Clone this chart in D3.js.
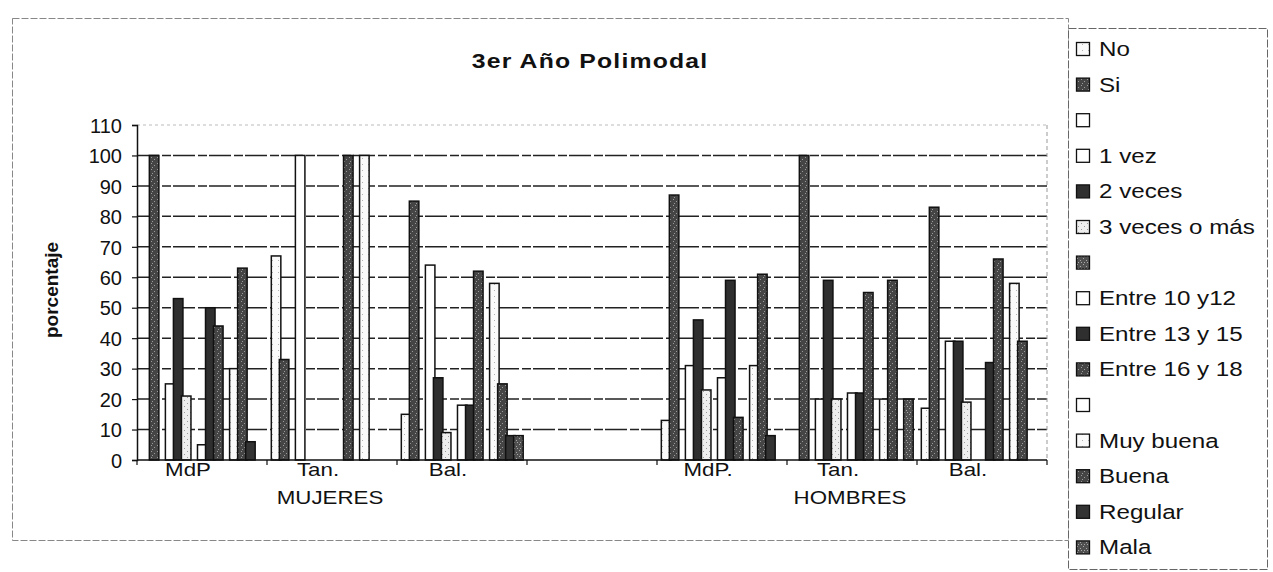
<!DOCTYPE html>
<html>
<head>
<meta charset="utf-8">
<script src="https://cdn.jsdelivr.net/npm/d3@7"></script>
<style>
  html, body { margin: 0; padding: 0; background: #fff; }
  svg { display: block; font-family: "Liberation Sans", Arial, sans-serif; }
</style>
</head>
<body>
<svg id="chart" width="1273" height="572"></svg>
<script>
// ---------------- data ----------------
const categories   = ["MdP", "Tan.", "Bal.", "", "MdP.", "Tan.", "Bal."];
const groupLabels  = ["", "MUJERES", "", "", "", "HOMBRES", ""];
const seriesNames  = ["No", "Si", "", "1 vez", "2 veces", "3 veces o más", "",
                      "Entre 10 y12", "Entre 13 y 15", "Entre 16 y 18", "",
                      "Muy buena", "Buena", "Regular", "Mala"];
const yTicks = [0, 10, 20, 30, 40, 50, 60, 70, 80, 90, 100, 110];

const vNo        = [0, 67, 15, 0, 13, 0, 17];
const vSi        = [100, 33, 85, 0, 87, 100, 83];
const vBlank1    = [0, 0, 0, 0, 0, 0, 0];
const v1vez      = [25, 100, 64, 0, 31, 20, 39];
const v2veces    = [53, 0, 27, 0, 46, 59, 39];
const v3veces    = [21, 0, 9, 0, 23, 20, 19];
const vBlank2    = [0, 0, 0, 0, 0, 0, 0];
const vE10_12    = [5, 0, 18, 0, 27, 22, 0];
const vE13_15    = [50, 0, 18, 0, 59, 22, 32];
const vE16_18    = [44, 100, 62, 0, 14, 55, 66];
const vBlank3    = [0, 0, 0, 0, 0, 0, 0];
const vMuyBuena  = [30, 100, 58, 0, 31, 20, 58];
const vBuena     = [63, 0, 25, 0, 61, 59, 39];
const vRegular   = [6, 0, 8, 0, 8, 0, 0];
const vMala      = [0, 0, 8, 0, 0, 20, 0];

const seriesValues = [vNo, vSi, vBlank1, v1vez, v2veces, v3veces, vBlank2,
                      vE10_12, vE13_15, vE16_18, vBlank3, vMuyBuena, vBuena, vRegular, vMala];

// ---------------- styles ----------------
const seriesFill = ["url(#light)", "url(#stip)", "#ffffff", "#ffffff", "#2f2f2f", "url(#light2)",
                    "url(#stip2)", "#ffffff", "#2f2f2f", "url(#stip)", "#ffffff",
                    "url(#light)", "url(#stip)", "#333333", "url(#stip2)"];

const svg = d3.select("#chart");
const defs = svg.append("defs");
function stipple(id, base, dot, pts) {
  const p = defs.append("pattern").attr("id", id).attr("patternUnits", "userSpaceOnUse")
    .attr("width", 6).attr("height", 6);
  p.append("rect").attr("width", 6).attr("height", 6).attr("fill", base);
  pts.forEach(q => p.append("rect").attr("x", q[0]).attr("y", q[1]).attr("width", 1).attr("height", 1).attr("fill", dot));
}
stipple("stip", "#454545", "#9a9a9a", [[1,1],[4,3],[2,5]]);
stipple("stip2", "#505050", "#a8a8a8", [[0,2],[3,0],[4,4],[1,4]]);
stipple("light", "#fafafa", "#b0b0b0", [[2,2]]);
stipple("light2", "#eeeeee", "#999999", [[1,1],[4,4]]);

const SX = 1.24; // horizontal stretch of the scanned text

function txt(g, x, y, s, opts = {}) {
  return g.append("text")
    .attr("transform", `translate(${x},${y}) scale(${opts.sx || SX},1)`)
    .attr("text-anchor", opts.anchor || "start")
    .attr("font-size", opts.size || 19)
    .attr("font-weight", opts.weight || "normal")
    .attr("letter-spacing", opts.ls || 0)
    .attr("fill", "#111")
    .text(s);
}

// ---------------- frame ----------------
svg.append("rect").attr("x", 12.5).attr("y", 18.5).attr("width", 1056).attr("height", 522)
  .attr("fill", "none").attr("stroke", "#888").attr("stroke-width", 1).attr("stroke-dasharray", "7 2");

// ---------------- scales ----------------
const x0 = d3.scaleBand().domain(d3.range(categories.length)).range([137, 1047]).paddingInner(0).paddingOuter(0);
const x1 = d3.scaleBand().domain(d3.range(seriesNames.length)).range([0, x0.bandwidth()])
  .paddingInner(0).paddingOuter(0.6);
const y = d3.scaleLinear().domain([0, 110]).range([460, 125]);

// gridlines
svg.append("g").selectAll("line").data(yTicks.filter(t => t > 0 && t < 110)).join("line")
  .attr("x1", 137).attr("x2", 1047).attr("y1", d => y(d)).attr("y2", d => y(d))
  .attr("stroke", "#222").attr("stroke-width", 1.5).attr("stroke-dasharray", "22 3 9 2");
// faint plot border (top & right)
svg.append("line").attr("x1", 137).attr("x2", 1047).attr("y1", y(110)).attr("y2", y(110))
  .attr("stroke", "#bbb").attr("stroke-width", 1).attr("stroke-dasharray", "3 3");
svg.append("line").attr("x1", 1047).attr("x2", 1047).attr("y1", y(110)).attr("y2", y(0))
  .attr("stroke", "#999").attr("stroke-width", 1).attr("stroke-dasharray", "4 3");

// bars
const barG = svg.append("g");
categories.forEach((c, ci) => {
  seriesValues.forEach((vals, si) => {
    const v = vals[ci];
    if (!v) return;
    barG.append("rect")
      .attr("x", x0(ci) + x1(si) - 0.5)
      .attr("width", x1.bandwidth() + 1.5)
      .attr("y", y(v))
      .attr("height", y(0) - y(v))
      .attr("fill", seriesFill[si])
      .attr("stroke", "#111").attr("stroke-width", 1.5);
  });
});

// y axis
const yAxis = svg.append("g").attr("transform", "translate(137,0)")
  .call(d3.axisLeft(y).tickValues(yTicks).tickSize(5).tickPadding(10));
yAxis.select(".domain").attr("stroke", "#111").attr("stroke-width", 1.5);
yAxis.selectAll(".tick line").attr("stroke", "#111").attr("stroke-width", 1.2);
yAxis.selectAll(".tick text").attr("font-size", 20).attr("font-family", "Liberation Sans, Arial, sans-serif")
  .attr("fill", "#111").attr("dy", "0.36em");

// x axis
svg.append("line").attr("x1", 137).attr("x2", 1047).attr("y1", y(0)).attr("y2", y(0))
  .attr("stroke", "#111").attr("stroke-width", 1.5);
svg.append("g").selectAll("line").data(d3.range(categories.length + 1)).join("line")
  .attr("x1", d => d < categories.length ? x0(d) : x0.range()[1])
  .attr("x2", d => d < categories.length ? x0(d) : x0.range()[1])
  .attr("y1", y(0)).attr("y2", y(0) + 5).attr("stroke", "#111").attr("stroke-width", 1.2);

const xl = svg.append("g");
categories.forEach((c, i) => {
  const cx = x0(i) + x0.bandwidth() / 2;
  if (c) txt(xl, cx - 14, 476, c, { anchor: "middle", size: 18 });
  if (groupLabels[i]) txt(xl, cx - 2, 504, groupLabels[i], { anchor: "middle", size: 18 });
});

// axis title
svg.append("text").attr("transform", "translate(58,290) rotate(-90)")
  .attr("text-anchor", "middle").attr("font-size", 19).attr("font-weight", "bold")
  .attr("fill", "#111").text("porcentaje");

// chart title
txt(svg, 590, 68, "3er Año Polimodal", { anchor: "middle", size: 21, weight: "bold", ls: 1, sx: 1.18 });

// ---------------- legend ----------------
svg.append("rect").attr("x", 1068.5).attr("y", 28.5).attr("width", 199).attr("height", 541)
  .attr("fill", "#fff").attr("stroke", "#666").attr("stroke-width", 1).attr("stroke-dasharray", "8 2");
const lg = svg.append("g");
seriesNames.forEach((s, i) => {
  const cy = 49 + i * 35.6;
  lg.append("rect").attr("x", 1076.5).attr("y", cy - 6.5).attr("width", 13).attr("height", 13)
    .attr("fill", seriesFill[i]).attr("stroke", "#111").attr("stroke-width", 1.3);
  if (s) txt(lg, 1099, cy + 7, s, { size: 19.5 });
});
</script>
</body>
</html>
